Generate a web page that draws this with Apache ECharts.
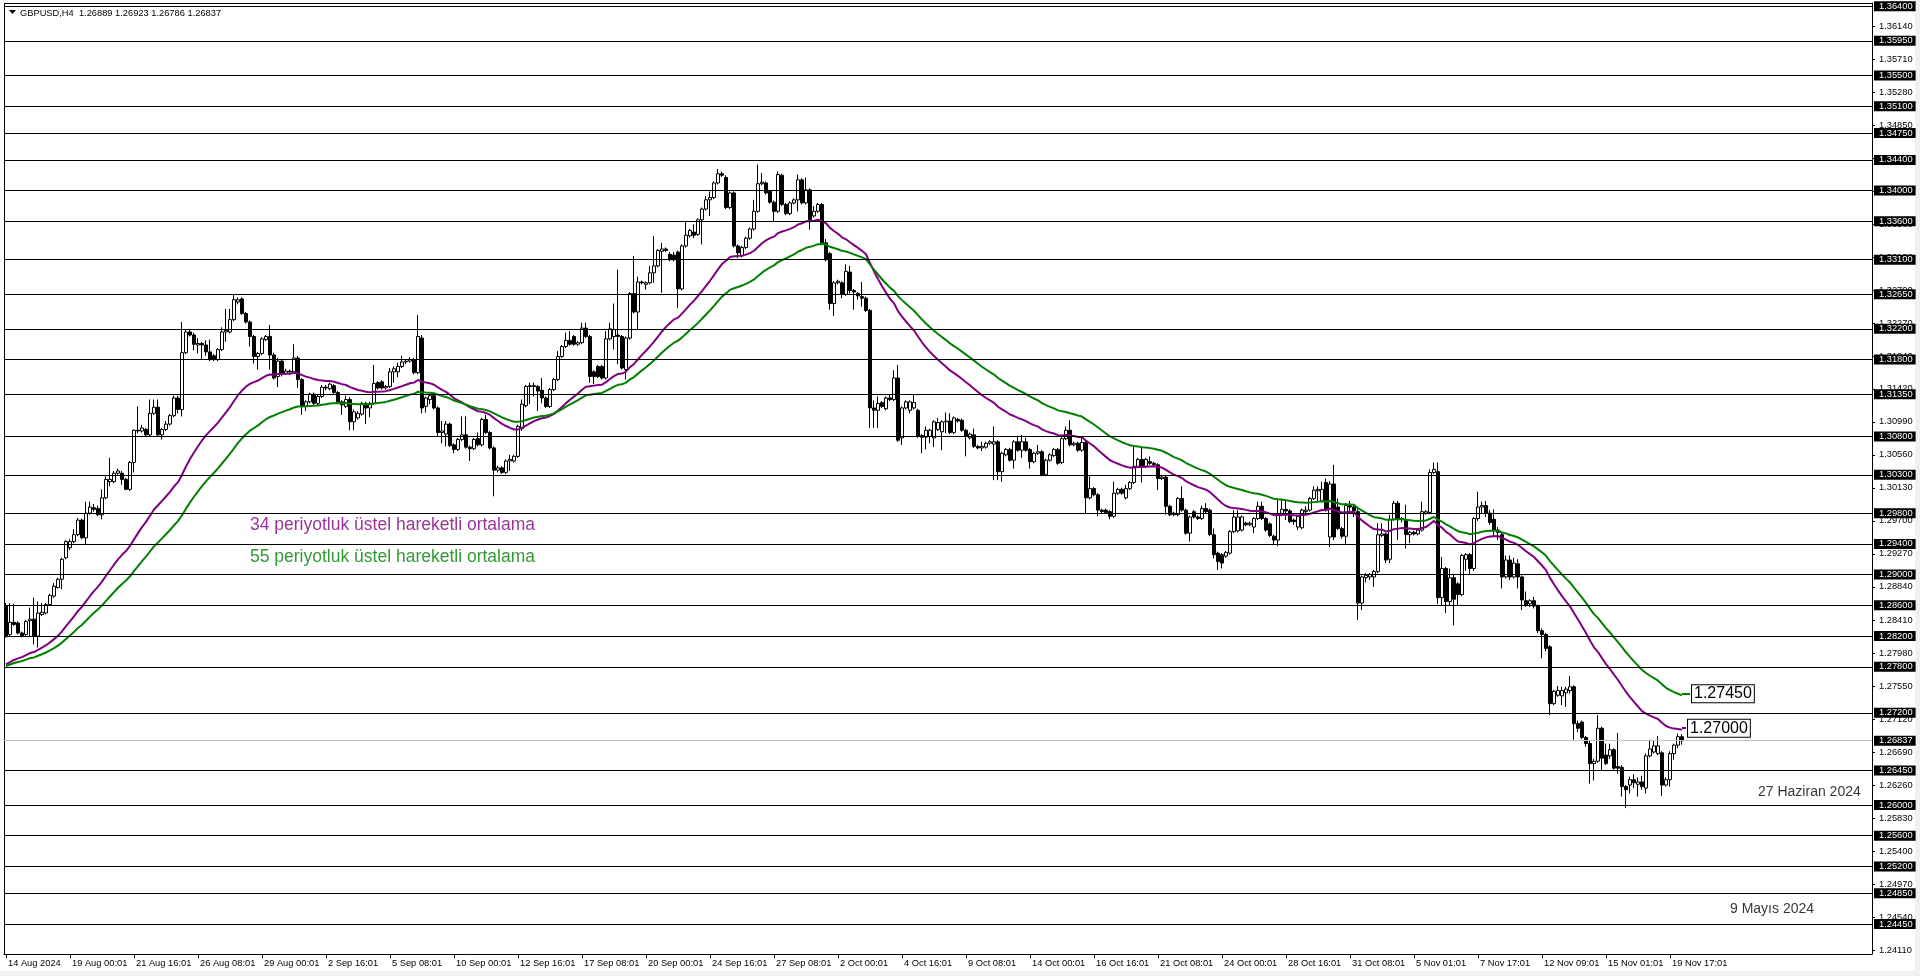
<!DOCTYPE html>
<html><head><meta charset="utf-8">
<script src="https://cdn.jsdelivr.net/npm/echarts@6/dist/echarts.min.js"></script>
<style>html,body{margin:0;padding:0;background:#fff;overflow:hidden}#c{width:1920px;height:976px}</style>
</head><body><div id="c"></div>
<script>
const symbolName = 'GBPUSD,H4';
// H4 candles: [open, high, low, close]
const candles = [
[1.2859,1.2863,1.2818,1.2820],[1.2822,1.2863,1.2820,1.2838],[1.2838,1.2862,1.2833,1.2835],[1.2837,1.2839,1.2822,1.2824],[1.2824,1.2826,1.2818,1.2820],
[1.2822,1.2841,1.2820,1.2839],[1.2840,1.2857,1.2820,1.2842],[1.2842,1.2870,1.2809,1.2820],[1.2820,1.2865,1.2805,1.2850],[1.2848,1.2863,1.2846,1.2851],
[1.2850,1.2863,1.2848,1.2861],[1.2861,1.2875,1.2860,1.2873],[1.2872,1.2889,1.2870,1.2885],[1.2883,1.2896,1.2882,1.2894],[1.2894,1.2922,1.2881,1.2920],
[1.2922,1.2945,1.2920,1.2943],[1.2935,1.2946,1.2932,1.2943],[1.2943,1.2959,1.2941,1.2952],[1.2952,1.2974,1.2950,1.2971],[1.2971,1.2973,1.2946,1.2948],
[1.2948,1.2995,1.2939,1.2980],[1.2980,1.2995,1.2978,1.2988],[1.2987,1.2992,1.2982,1.2985],[1.2986,1.2990,1.2976,1.2978],[1.2978,1.3011,1.2972,1.3000],
[1.3000,1.3028,1.2998,1.3024],[1.3021,1.3052,1.3015,1.3024],[1.3021,1.3035,1.3019,1.3032],[1.3032,1.3038,1.3030,1.3035],[1.3032,1.3035,1.3017,1.3024],
[1.3024,1.3026,1.3010,1.3011],[1.3011,1.3048,1.3009,1.3046],[1.3046,1.3089,1.3033,1.3088],[1.3088,1.3119,1.3084,1.3087],[1.3087,1.3095,1.3085,1.3091],
[1.3089,1.3091,1.3080,1.3082],[1.3082,1.3128,1.3080,1.3110],[1.3110,1.3128,1.3108,1.3118],[1.3118,1.3128,1.3080,1.3082],[1.3082,1.3091,1.3076,1.3089],
[1.3089,1.3100,1.3087,1.3096],[1.3096,1.3109,1.3094,1.3107],[1.3107,1.3133,1.3105,1.3130],[1.3130,1.3133,1.3110,1.3115],[1.3115,1.3229,1.3106,1.3189],
[1.3189,1.3219,1.3187,1.3216],[1.3216,1.3220,1.3210,1.3212],[1.3212,1.3215,1.3192,1.3200],[1.3199,1.3208,1.3188,1.3201],[1.3201,1.3203,1.3180,1.3199],
[1.3199,1.3205,1.3185,1.3190],[1.3190,1.3206,1.3178,1.3180],[1.3185,1.3187,1.3178,1.3180],[1.3180,1.3195,1.3178,1.3193],[1.3193,1.3222,1.3191,1.3216],
[1.3216,1.3246,1.3203,1.3218],[1.3216,1.3246,1.3214,1.3232],[1.3232,1.3264,1.3230,1.3258],[1.3255,1.3261,1.3252,1.3258],[1.3259,1.3261,1.3238,1.3240],
[1.3240,1.3242,1.3227,1.3229],[1.3229,1.3231,1.3197,1.3210],[1.3210,1.3212,1.3175,1.3184],[1.3184,1.3190,1.3167,1.3188],[1.3188,1.3209,1.3186,1.3207],
[1.3206,1.3212,1.3204,1.3210],[1.3210,1.3225,1.3167,1.3186],[1.3186,1.3189,1.3154,1.3156],[1.3158,1.3182,1.3144,1.3178],[1.3178,1.3181,1.3158,1.3162],
[1.3162,1.3168,1.3160,1.3165],[1.3165,1.3167,1.3161,1.3164],[1.3164,1.3200,1.3162,1.3182],[1.3182,1.3185,1.3143,1.3154],[1.3154,1.3156,1.3108,1.3119],
[1.3119,1.3127,1.3113,1.3125],[1.3125,1.3137,1.3123,1.3135],[1.3135,1.3137,1.3121,1.3123],[1.3123,1.3134,1.3121,1.3132],[1.3132,1.3147,1.3130,1.3144],
[1.3144,1.3147,1.3140,1.3143],[1.3142,1.3150,1.3140,1.3148],[1.3146,1.3148,1.3134,1.3137],[1.3137,1.3139,1.3123,1.3125],[1.3125,1.3127,1.3108,1.3121],
[1.3119,1.3133,1.3117,1.3128],[1.3128,1.3131,1.3088,1.3099],[1.3099,1.3115,1.3088,1.3112],[1.3104,1.3113,1.3102,1.3110],[1.3109,1.3125,1.3107,1.3123],
[1.3123,1.3125,1.3096,1.3117],[1.3117,1.3125,1.3105,1.3123],[1.3123,1.3173,1.3121,1.3149],[1.3150,1.3152,1.3141,1.3143],[1.3151,1.3153,1.3141,1.3143],
[1.3143,1.3147,1.3141,1.3145],[1.3145,1.3169,1.3143,1.3164],[1.3164,1.3171,1.3150,1.3168],[1.3164,1.3176,1.3157,1.3171],[1.3171,1.3185,1.3169,1.3177],
[1.3177,1.3180,1.3174,1.3178],[1.3178,1.3183,1.3176,1.3180],[1.3180,1.3182,1.3161,1.3163],[1.3163,1.3238,1.3161,1.3210],[1.3208,1.3212,1.3110,1.3117],
[1.3119,1.3132,1.3111,1.3130],[1.3128,1.3136,1.3122,1.3133],[1.3133,1.3135,1.3115,1.3117],[1.3117,1.3119,1.3080,1.3085],[1.3085,1.3100,1.3071,1.3087],
[1.3083,1.3100,1.3067,1.3096],[1.3096,1.3098,1.3066,1.3068],[1.3069,1.3071,1.3058,1.3063],[1.3063,1.3078,1.3061,1.3076],[1.3076,1.3106,1.3074,1.3082],
[1.3082,1.3106,1.3064,1.3066],[1.3066,1.3068,1.3048,1.3064],[1.3064,1.3078,1.3062,1.3076],[1.3077,1.3085,1.3067,1.3069],[1.3069,1.3104,1.3067,1.3102],
[1.3102,1.3108,1.3083,1.3085],[1.3085,1.3087,1.3063,1.3065],[1.3065,1.3067,1.3002,1.3036],[1.3036,1.3042,1.3033,1.3039],[1.3039,1.3041,1.3031,1.3033],
[1.3033,1.3050,1.3031,1.3048],[1.3048,1.3056,1.3035,1.3050],[1.3048,1.3056,1.3046,1.3054],[1.3054,1.3095,1.3052,1.3093],[1.3090,1.3128,1.3087,1.3122],
[1.3120,1.3147,1.3118,1.3145],[1.3145,1.3150,1.3122,1.3146],[1.3146,1.3150,1.3132,1.3145],[1.3145,1.3147,1.3113,1.3139],[1.3140,1.3156,1.3123,1.3130],
[1.3130,1.3132,1.3117,1.3119],[1.3119,1.3143,1.3117,1.3141],[1.3141,1.3156,1.3139,1.3154],[1.3154,1.3191,1.3152,1.3184],[1.3184,1.3199,1.3182,1.3197],
[1.3197,1.3215,1.3195,1.3205],[1.3205,1.3217,1.3198,1.3200],[1.3210,1.3212,1.3198,1.3200],[1.3200,1.3204,1.3198,1.3202],[1.3202,1.3228,1.3200,1.3221],
[1.3221,1.3228,1.3208,1.3210],[1.3210,1.3212,1.3150,1.3158],[1.3164,1.3166,1.3148,1.3158],[1.3171,1.3173,1.3156,1.3158],[1.3171,1.3173,1.3154,1.3156],
[1.3156,1.3217,1.3154,1.3207],[1.3207,1.3228,1.3205,1.3220],[1.3210,1.3253,1.3193,1.3219],[1.3212,1.3297,1.3174,1.3210],[1.3210,1.3212,1.3167,1.3169],
[1.3167,1.3210,1.3154,1.3208],[1.3208,1.3268,1.3206,1.3266],[1.3266,1.3315,1.3240,1.3242],[1.3242,1.3288,1.3219,1.3281],[1.3281,1.3283,1.3278,1.3280],
[1.3278,1.3282,1.3271,1.3280],[1.3280,1.3302,1.3278,1.3293],[1.3293,1.3341,1.3280,1.3302],[1.3302,1.3324,1.3300,1.3322],[1.3321,1.3332,1.3267,1.3324],
[1.3324,1.3326,1.3320,1.3322],[1.3317,1.3320,1.3308,1.3310],[1.3316,1.3320,1.3308,1.3310],[1.3320,1.3322,1.3247,1.3272],[1.3272,1.3330,1.3270,1.3328],
[1.3328,1.3359,1.3326,1.3342],[1.3341,1.3350,1.3339,1.3348],[1.3346,1.3356,1.3338,1.3342],[1.3343,1.3364,1.3341,1.3362],[1.3362,1.3378,1.3330,1.3376],
[1.3376,1.3393,1.3374,1.3388],[1.3388,1.3399,1.3367,1.3391],[1.3391,1.3412,1.3389,1.3410],[1.3410,1.3428,1.3408,1.3422],[1.3422,1.3425,1.3418,1.3420],
[1.3417,1.3420,1.3376,1.3378],[1.3378,1.3399,1.3376,1.3397],[1.3397,1.3399,1.3326,1.3328],[1.3328,1.3330,1.3312,1.3319],[1.3315,1.3328,1.3313,1.3326],
[1.3326,1.3340,1.3324,1.3338],[1.3338,1.3352,1.3336,1.3350],[1.3350,1.3388,1.3348,1.3373],[1.3373,1.3434,1.3371,1.3409],[1.3409,1.3423,1.3407,1.3411],
[1.3410,1.3412,1.3395,1.3397],[1.3399,1.3401,1.3383,1.3385],[1.3385,1.3387,1.3360,1.3373],[1.3373,1.3425,1.3371,1.3421],[1.3420,1.3422,1.3380,1.3382],
[1.3382,1.3384,1.3368,1.3370],[1.3370,1.3386,1.3368,1.3384],[1.3384,1.3390,1.3382,1.3388],[1.3388,1.3421,1.3373,1.3414],[1.3414,1.3416,1.3382,1.3384],
[1.3384,1.3417,1.3382,1.3401],[1.3401,1.3403,1.3349,1.3362],[1.3367,1.3380,1.3365,1.3373],[1.3373,1.3384,1.3371,1.3382],[1.3382,1.3384,1.3330,1.3332],
[1.3332,1.3337,1.3308,1.3310],[1.3318,1.3320,1.3245,1.3253],[1.3253,1.3282,1.3237,1.3280],[1.3280,1.3284,1.3278,1.3282],[1.3280,1.3282,1.3260,1.3265],
[1.3265,1.3304,1.3263,1.3295],[1.3294,1.3302,1.3266,1.3270],[1.3270,1.3272,1.3245,1.3268],[1.3266,1.3268,1.3258,1.3263],[1.3262,1.3281,1.3249,1.3260],
[1.3260,1.3262,1.3242,1.3244],[1.3244,1.3246,1.3091,1.3117],[1.3117,1.3127,1.3091,1.3114],[1.3114,1.3132,1.3091,1.3123],[1.3124,1.3126,1.3117,1.3119],
[1.3116,1.3132,1.3114,1.3130],[1.3130,1.3134,1.3126,1.3128],[1.3128,1.3166,1.3126,1.3156],[1.3156,1.3173,1.3073,1.3075],[1.3078,1.3119,1.3069,1.3117],
[1.3117,1.3127,1.3115,1.3125],[1.3114,1.3127,1.3110,1.3125],[1.3117,1.3134,1.3115,1.3124],[1.3114,1.3116,1.3078,1.3080],[1.3081,1.3083,1.3058,1.3079],
[1.3079,1.3093,1.3063,1.3088],[1.3080,1.3090,1.3071,1.3088],[1.3078,1.3101,1.3066,1.3099],[1.3089,1.3104,1.3087,1.3098],[1.3086,1.3101,1.3062,1.3099],
[1.3099,1.3111,1.3084,1.3100],[1.3100,1.3110,1.3083,1.3085],[1.3085,1.3106,1.3083,1.3104],[1.3102,1.3104,1.3098,1.3100],[1.3101,1.3103,1.3086,1.3088],
[1.3088,1.3090,1.3054,1.3080],[1.3078,1.3085,1.3076,1.3083],[1.3082,1.3090,1.3065,1.3067],[1.3067,1.3069,1.3063,1.3065],[1.3065,1.3073,1.3061,1.3067],
[1.3066,1.3073,1.3064,1.3071],[1.3071,1.3075,1.3069,1.3073],[1.3070,1.3093,1.3023,1.3073],[1.3073,1.3075,1.3023,1.3034],[1.3034,1.3060,1.3021,1.3058],
[1.3056,1.3065,1.3054,1.3063],[1.3063,1.3065,1.3047,1.3049],[1.3049,1.3075,1.3038,1.3073],[1.3073,1.3080,1.3060,1.3062],[1.3062,1.3082,1.3052,1.3073],
[1.3073,1.3078,1.3060,1.3062],[1.3063,1.3065,1.3038,1.3047],[1.3047,1.3060,1.3045,1.3058],[1.3058,1.3069,1.3056,1.3060],[1.3060,1.3062,1.3028,1.3030],
[1.3030,1.3051,1.3028,1.3049],[1.3049,1.3058,1.3047,1.3056],[1.3055,1.3065,1.3053,1.3063],[1.3063,1.3065,1.3043,1.3045],[1.3046,1.3079,1.3044,1.3077],
[1.3077,1.3093,1.3075,1.3088],[1.3088,1.3101,1.3067,1.3069],[1.3069,1.3073,1.3067,1.3071],[1.3071,1.3073,1.3060,1.3062],[1.3062,1.3078,1.3060,1.3072],
[1.3072,1.3074,1.2979,1.3000],[1.3000,1.3028,1.2998,1.3012],[1.3012,1.3014,1.3002,1.3004],[1.3004,1.3006,1.2976,1.2984],[1.2984,1.2986,1.2980,1.2982],
[1.2984,1.2986,1.2979,1.2981],[1.2982,1.2984,1.2972,1.2976],[1.2976,1.3021,1.2974,1.3006],[1.3006,1.3013,1.3004,1.3011],[1.3011,1.3013,1.3004,1.3006],
[1.3000,1.3017,1.2998,1.3012],[1.3012,1.3022,1.3010,1.3020],[1.3020,1.3067,1.3018,1.3041],[1.3041,1.3052,1.3039,1.3050],[1.3050,1.3067,1.3020,1.3041],
[1.3041,1.3052,1.3039,1.3050],[1.3047,1.3054,1.3043,1.3045],[1.3045,1.3047,1.3041,1.3043],[1.3043,1.3045,1.3010,1.3025],[1.3025,1.3030,1.3023,1.3027],
[1.3027,1.3029,1.2978,1.2989],[1.2989,1.2991,1.2976,1.2978],[1.2980,1.2982,1.2976,1.2978],[1.2978,1.3001,1.2976,1.2999],[1.2999,1.3015,1.2982,1.2984],
[1.2984,1.2986,1.2952,1.2954],[1.2954,1.2977,1.2943,1.2975],[1.2982,1.2984,1.2973,1.2975],[1.2975,1.2977,1.2971,1.2973],[1.2973,1.2990,1.2971,1.2986],
[1.2986,1.2993,1.2980,1.2982],[1.2984,1.2986,1.2950,1.2952],[1.2952,1.2960,1.2921,1.2926],[1.2928,1.2930,1.2906,1.2917],[1.2926,1.2928,1.2908,1.2915],
[1.2924,1.2931,1.2922,1.2929],[1.2928,1.2958,1.2926,1.2956],[1.2956,1.2984,1.2954,1.2975],[1.2957,1.2984,1.2955,1.2975],[1.2958,1.2977,1.2956,1.2975],
[1.2967,1.2969,1.2963,1.2965],[1.2965,1.2969,1.2963,1.2967],[1.2962,1.2975,1.2954,1.2973],[1.2973,1.2995,1.2971,1.2989],[1.2989,1.2995,1.2971,1.2973],
[1.2973,1.2975,1.2956,1.2958],[1.2966,1.2968,1.2949,1.2951],[1.2950,1.2952,1.2939,1.2945],[1.2945,1.2997,1.2937,1.2979],[1.2978,1.2999,1.2976,1.2985],
[1.2985,1.2997,1.2971,1.2983],[1.2983,1.2985,1.2967,1.2969],[1.2971,1.2973,1.2965,1.2969],[1.2962,1.2978,1.2958,1.2976],[1.2961,1.2986,1.2959,1.2984],
[1.2982,1.2989,1.2980,1.2984],[1.2984,1.3001,1.2982,1.2999],[1.2999,1.3015,1.2997,1.3010],[1.3009,1.3015,1.2995,1.3011],[1.2996,1.3021,1.2994,1.3011],
[1.3020,1.3025,1.2982,1.2984],[1.2949,1.3022,1.2936,1.3018],[1.3018,1.3043,1.2945,1.2949],[1.2988,1.2999,1.2958,1.2960],[1.2960,1.2962,1.2947,1.2950],
[1.2950,1.2993,1.2940,1.2990],[1.2990,1.2996,1.2980,1.2988],[1.2988,1.2990,1.2975,1.2983],[1.2982,1.2985,1.2841,1.2863],[1.2863,1.2899,1.2854,1.2897],
[1.2896,1.2902,1.2890,1.2899],[1.2897,1.2902,1.2893,1.2900],[1.2897,1.2906,1.2884,1.2904],[1.2904,1.2967,1.2902,1.2952],[1.2951,1.2967,1.2949,1.2953],
[1.2953,1.2955,1.2915,1.2919],[1.2920,1.2978,1.2915,1.2972],[1.2972,1.2996,1.2970,1.2993],[1.2993,1.2996,1.2945,1.2972],[1.2972,1.2975,1.2968,1.2973],
[1.2972,1.2991,1.2934,1.2952],[1.2952,1.2957,1.2941,1.2955],[1.2955,1.2957,1.2951,1.2953],[1.2953,1.2960,1.2951,1.2958],[1.2958,1.2995,1.2956,1.2982],
[1.2980,1.2984,1.2978,1.2982],[1.2981,1.3037,1.2979,1.3033],[1.3033,1.3046,1.3031,1.3037],[1.3034,1.3046,1.2862,1.2870],[1.2870,1.2923,1.2860,1.2908],
[1.2908,1.2910,1.2850,1.2865],[1.2865,1.2908,1.2860,1.2896],[1.2896,1.2900,1.2834,1.2868],[1.2888,1.2890,1.2860,1.2874],[1.2874,1.2927,1.2872,1.2925],
[1.2920,1.2928,1.2905,1.2926],[1.2926,1.2928,1.2900,1.2908],[1.2908,1.2975,1.2905,1.2973],[1.2973,1.3008,1.2970,1.2988],[1.2988,1.2995,1.2980,1.2990],
[1.2990,1.2996,1.2975,1.2980],[1.2980,1.2984,1.2965,1.2968],[1.2972,1.2985,1.2950,1.2958],[1.2958,1.2962,1.2945,1.2955],[1.2952,1.2955,1.2882,1.2897],
[1.2897,1.2925,1.2895,1.2919],[1.2919,1.2925,1.2893,1.2897],[1.2897,1.2922,1.2895,1.2915],[1.2914,1.2920,1.2882,1.2897],[1.2897,1.2899,1.2854,1.2867],
[1.2866,1.2878,1.2858,1.2860],[1.2862,1.2868,1.2858,1.2866],[1.2866,1.2871,1.2856,1.2859],[1.2859,1.2861,1.2824,1.2827],[1.2827,1.2830,1.2791,1.2822],
[1.2822,1.2824,1.2800,1.2804],[1.2806,1.2808,1.2717,1.2732],[1.2732,1.2750,1.2730,1.2748],[1.2743,1.2755,1.2741,1.2749],[1.2742,1.2754,1.2730,1.2749],
[1.2746,1.2754,1.2728,1.2751],[1.2749,1.2768,1.2745,1.2754],[1.2754,1.2756,1.2685,1.2706],[1.2706,1.2710,1.2695,1.2700],[1.2708,1.2710,1.2686,1.2688],
[1.2688,1.2690,1.2676,1.2680],[1.2680,1.2684,1.2628,1.2654],[1.2654,1.2660,1.2632,1.2657],[1.2657,1.2717,1.2655,1.2700],[1.2700,1.2702,1.2645,1.2661],
[1.2665,1.2680,1.2652,1.2654],[1.2664,1.2680,1.2660,1.2672],[1.2672,1.2674,1.2646,1.2648],[1.2650,1.2694,1.2641,1.2648],[1.2649,1.2652,1.2611,1.2624],
[1.2624,1.2626,1.2596,1.2620],[1.2626,1.2637,1.2615,1.2633],[1.2633,1.2640,1.2622,1.2629],[1.2627,1.2636,1.2611,1.2630],[1.2630,1.2638,1.2620,1.2624],
[1.2622,1.2667,1.2615,1.2664],[1.2664,1.2685,1.2662,1.2673],[1.2669,1.2684,1.2667,1.2677],[1.2667,1.2690,1.2665,1.2677],[1.2668,1.2670,1.2612,1.2626],
[1.2626,1.2636,1.2624,1.2633],[1.2633,1.2670,1.2624,1.2667],[1.2667,1.2680,1.2659,1.2678],[1.2678,1.2693,1.2674,1.2689],[1.26889,1.26923,1.26786,1.26837]
];
const tickLabels = ['14 Aug 2024','19 Aug 00:01','21 Aug 16:01','26 Aug 08:01','29 Aug 00:01','2 Sep 16:01','5 Sep 08:01','10 Sep 00:01','12 Sep 16:01','17 Sep 08:01','20 Sep 00:01','24 Sep 16:01','27 Sep 08:01','2 Oct 00:01','4 Oct 16:01','9 Oct 08:01','14 Oct 00:01','16 Oct 16:01','21 Oct 08:01','24 Oct 00:01','28 Oct 16:01','31 Oct 08:01','5 Nov 01:01','7 Nov 17:01','12 Nov 09:01','15 Nov 01:01','19 Nov 17:01'];
const barsPerTick = 16;
const priceScaleLabels = [1.2411,1.2454,1.2497,1.2540,1.2583,1.2626,1.2669,1.2712,1.2755,1.2798,1.2841,1.2884,1.2927,1.2970,1.3013,1.3056,1.3099,1.3142,1.3184,1.3227,1.3270,1.3313,1.3356,1.3399,1.3442,1.3485,1.3528,1.3571,1.3614];
const levelLines = [1.3640,1.3595,1.3550,1.3510,1.3475,1.3440,1.3400,1.3360,1.3310,1.3265,1.3220,1.3180,1.3135,1.3080,1.3030,1.2980,1.2940,1.2900,1.2860,1.2820,1.2780,1.2720,1.2645,1.2600,1.2560,1.2520,1.2485,1.2445];
const currentPrice = 1.26837;
const emaPeriods = [34, 55];
const emaSeeds = [1.2783, 1.2781];
const emaColors = ['#800080', '#008000'];
const emaTags = [1.2700, 1.2745];
const legendTexts = ['34 periyotluk üstel hareketli ortalama', '55 periyotluk üstel hareketli ortalama'];
const legendPrices = [1.2964, 1.2923];
const noteTexts = ['27 Haziran 2024', '9 Mayıs 2024'];
const notePrices = [1.2617, 1.2464];

const FONT = '"Liberation Sans", Arial, sans-serif';
const totalSlots = 467;
const cats = Array.from({length: totalSlots}, (_, i) => String(i));
const nBars = candles.length;

function ema(period, seed) {
  const a = 2 / (period + 1);
  let e = seed;
  return candles.map((r, i) => { if (i > 0) e = e + a * (r[3] - e); return +e.toFixed(5); });
}
const emaData = emaPeriods.map((p, k) => ema(p, emaSeeds[k]));
const last = candles[nBars - 1];
const titleText = symbolName + '  ' + last.map(v => v.toFixed(5)).join(' ');
const tickFn = (i) => i % barsPerTick === 0 && (i / barsPerTick) < tickLabels.length;

const chart = echarts.init(document.getElementById('c'), null, {renderer: 'canvas'});
const levelLabel = {
  show: true, position: 'end', distance: 2,
  formatter: p => (+p.value).toFixed(5),
  color: '#fff', backgroundColor: '#000', padding: [0, 3, 0, 5],
  fontSize: 9.3, lineHeight: 10, fontFamily: FONT
};
const option = {
  animation: false,
  backgroundColor: '#fff',
  textStyle: {fontFamily: FONT},
  grid: {left: 4, right: 48, top: 3, bottom: 22, containLabel: false},
  xAxis: {
    type: 'category', data: cats, boundaryGap: true,
    axisLine: {show: true, lineStyle: {color: '#000', width: 1}},
    axisTick: {show: true, alignWithLabel: true, interval: tickFn, length: 4, lineStyle: {color: '#000'}},
    axisLabel: {show: true, interval: tickFn, formatter: (v, i) => tickLabels[Math.round(+v / barsPerTick)] || '',
      align: 'left', margin: 5, padding: [0, 0, 0, 2], fontSize: 9.3, color: '#000', fontFamily: FONT},
    splitLine: {show: false}
  },
  yAxis: {
    type: 'value', position: 'right', min: 1.240602, max: 1.36443, scale: true,
    axisLine: {show: true, lineStyle: {color: '#000', width: 1}},
    axisTick: {show: true, customValues: priceScaleLabels, length: 3, lineStyle: {color: '#000'}},
    axisLabel: {show: true, customValues: priceScaleLabels, formatter: v => (+v).toFixed(5), margin: 7,
      fontSize: 9.3, color: '#000', fontFamily: FONT},
    splitLine: {show: false}
  },
  graphic: [
    {type: 'rect', shape: {x: 1915, y: 0, width: 5, height: 976}, style: {fill: '#f0f0f0'}, silent: true},
    {type: 'rect', shape: {x: 0, y: 971, width: 1920, height: 5}, style: {fill: '#f0f0f0'}, silent: true},
    {type: 'line', shape: {x1: 4.5, y1: 3, x2: 4.5, y2: 954}, style: {stroke: '#000', lineWidth: 1}, silent: true},
    {type: 'line', shape: {x1: 4, y1: 3.5, x2: 1872, y2: 3.5}, style: {stroke: '#000', lineWidth: 1}, silent: true},
    {type: 'polygon', shape: {points: [[9, 10], [16, 10], [12.5, 14]]}, style: {fill: '#000'}, silent: true},
    {type: 'text', x: 20, y: 13, style: {text: titleText, fill: '#000', fontSize: 9.3, fontFamily: FONT, verticalAlign: 'middle'}, silent: true}
  ],
  series: [
    {
      type: 'line', name: 'levels', data: [], z: 1, silent: true,
      markLine: {
        silent: true, symbol: ['none', 'none'], animation: false, precision: 5,
        lineStyle: {color: '#000', width: 1, type: 'solid'},
        label: levelLabel,
        emphasis: {disabled: true},
        data: levelLines.map(v => ({yAxis: v})).concat([{yAxis: currentPrice, lineStyle: {color: '#c0c0c0', width: 1, type: 'solid'}}])
      }
    },
    {
      type: 'candlestick', name: symbolName, z: 2, barWidth: 3,
      data: candles.map(r => [r[0], r[3], r[2], r[1]]),
      itemStyle: {color: '#fff', color0: '#000', borderColor: '#000', borderColor0: '#000', borderWidth: 1},
      emphasis: {disabled: true}
    },
    ...emaData.map((d, k) => ({
      type: 'line', name: 'EMA' + emaPeriods[k], data: d, z: 3, symbol: 'none', smooth: false,
      lineStyle: {color: emaColors[k], width: 2}, silent: true,
      markLine: {
        silent: true, symbol: ['none', 'none'], animation: false, precision: 5,
        lineStyle: {color: emaColors[k], width: 2, type: 'solid'},
        label: {show: true, position: 'end', distance: 2, formatter: () => emaTags[k].toFixed(5),
          color: '#000', backgroundColor: '#fff', borderColor: '#000', borderWidth: 1,
          padding: [1, 2, 0, 2], fontSize: 16, lineHeight: 16, fontFamily: FONT},
        data: [[{coord: [nBars - 1, emaTags[k]]}, {coord: [k === 0 ? nBars : nBars + 1, emaTags[k]]}]]
      }
    })),
    {
      type: 'scatter', name: 'notes', z: 4, symbolSize: 0, silent: true,
      data: legendTexts.map((t, k) => ({name: t, value: [61, legendPrices[k]],
        label: {color: emaColors[k], fontSize: 17.5}}))
        .concat(noteTexts.map((t, k) => ({name: t, value: [k === 0 ? 438 : 431, notePrices[k]],
        label: {color: '#000', fontSize: 14}}))),
      label: {show: true, position: 'right', distance: 0, formatter: '{b}', fontFamily: FONT}
    }
  ]
};
chart.setOption(option);
</script>
</body></html>
